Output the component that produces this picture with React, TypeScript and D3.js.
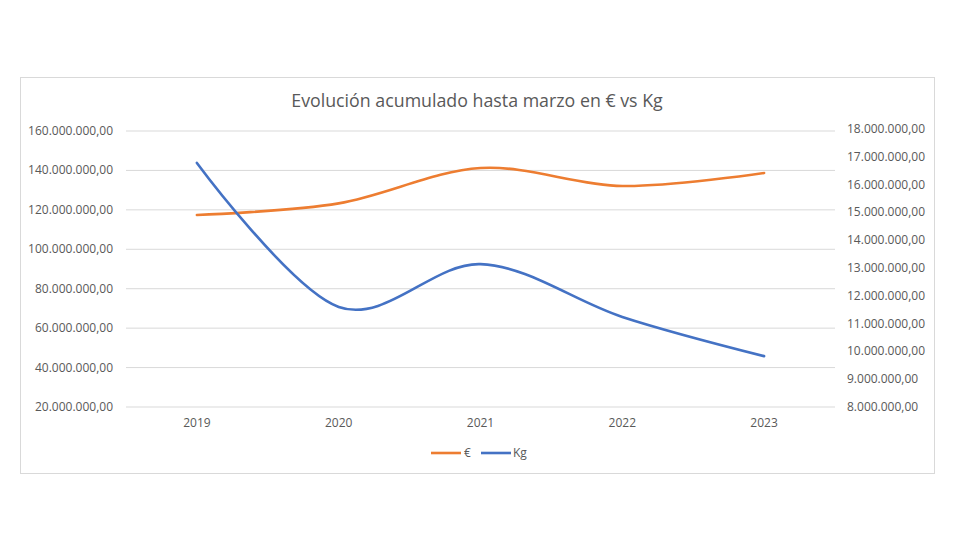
import React from "react";
import * as d3 from "d3";

const years = ["2019", "2020", "2021", "2022", "2023"];
const euroValues = [117400000, 123300000, 141200000, 132100000, 138700000];
const kgValues = [16780000, 11600000, 13140000, 11240000, 9830000];
const leftTicks = [20000000, 40000000, 60000000, 80000000, 100000000, 120000000, 140000000, 160000000];
const rightTicks = [8000000, 9000000, 10000000, 11000000, 12000000, 13000000, 14000000, 15000000, 16000000, 17000000, 18000000];
const seriesNames = ["€", "Kg"];
const title = "Evolución acumulado hasta marzo en € vs Kg";

const fmt = (v: number) => {
  const s = Math.round(v).toString().replace(/\B(?=(\d{3})+(?!\d))/g, ".");
  return s + ",00";
};

export default function App() {
  const W = 980, H = 560;
  const left = 126, right = 835, top = 131, bottom = 407;
  const font = "'Open Sans', 'Noto Sans', sans-serif";
  const x = d3.scaleBand().domain(years).range([left, right]);
  const yL = d3.scaleLinear().domain([20000000, 160000000]).range([bottom, top]);
  const yR = d3.scaleLinear().domain([8000000, 18000000]).range([bottom, top - 2]);
  const cx = (d: string) => (x(d) as number) + x.bandwidth() / 2;
  const lineL = d3.line<number>().x((_, i) => cx(years[i])).y((d) => yL(d)).curve(d3.curveCatmullRom.alpha(0));
  const lineR = d3.line<number>().x((_, i) => cx(years[i])).y((d) => yR(d)).curve(d3.curveCatmullRom.alpha(0));
  const orange = "#ED7D31", blue = "#4472C4", textC = "#595959";
  return (
    <svg width={W} height={H} style={{ position: "absolute", left: 0, top: 0, background: "#fff" }}>
      <rect x={20.5} y={77.5} width={914} height={396} fill="#fff" stroke="#d9d9d9" />
      <text x={477} y={107} textAnchor="middle" fontFamily={font} fontSize={17.8} fill={textC}>{title}</text>
      {leftTicks.map((t) => (
        <g key={t}>
          <line x1={left} x2={right} y1={yL(t)} y2={yL(t)} stroke="#d9d9d9" strokeWidth={1} />
          <text x={113} y={yL(t) + 4} textAnchor="end" fontFamily={font} fontSize={12} fill={textC}>{fmt(t)}</text>
        </g>
      ))}
      {rightTicks.map((t) => (
        <text key={t} x={847} y={yR(t) + 4} textAnchor="start" fontFamily={font} fontSize={12} fill={textC}>{fmt(t)}</text>
      ))}
      {years.map((yv) => (
        <text key={yv} x={cx(yv)} y={427} textAnchor="middle" fontFamily={font} fontSize={12} fill={textC}>{yv}</text>
      ))}
      <path d={lineL(euroValues) || ""} fill="none" stroke={orange} strokeWidth={2.6} strokeLinecap="round" />
      <path d={lineR(kgValues) || ""} fill="none" stroke={blue} strokeWidth={2.6} strokeLinecap="round" />
      <g>
        <line x1={431} x2={461} y1={453} y2={453} stroke={orange} strokeWidth={2.6} />
        <text x={464} y={457} fontFamily={font} fontSize={12} fill={textC}>{seriesNames[0]}</text>
        <line x1={481} x2={511} y1={453} y2={453} stroke={blue} strokeWidth={2.6} />
        <text x={513} y={457} fontFamily={font} fontSize={12} fill={textC}>{seriesNames[1]}</text>
      </g>
    </svg>
  );
}
